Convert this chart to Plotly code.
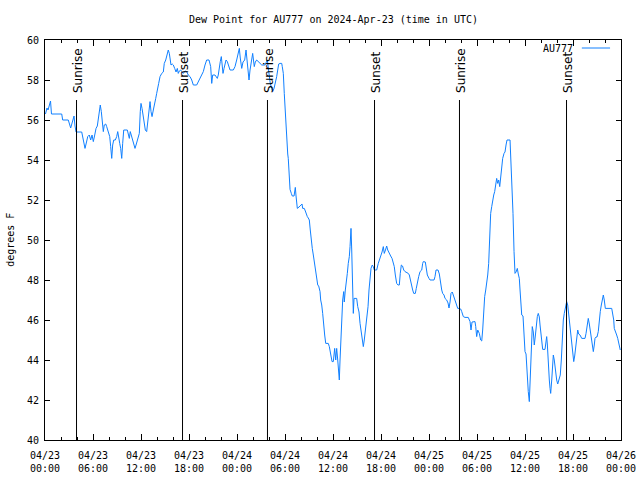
import pandas as pd
import plotly.graph_objects as go

# ---- data (hours after 2024-04-23 00:00 UTC, dew point in F) ----
hours = [
    0.06, 0.25, 0.38, 0.56, 0.69, 0.81, 2.09, 2.21, 2.91, 3.21,
    3.38, 3.63, 3.75, 3.88, 4.59, 4.71, 4.88, 5.0, 5.19, 5.34,
    5.54, 5.71, 5.88, 6.04, 6.19, 6.38, 6.54, 6.66, 6.79, 6.91,
    7.04, 7.16, 7.29, 7.41, 7.59, 7.71, 7.84, 7.96, 8.09, 8.21,
    8.34, 8.46, 8.59, 8.79, 8.96, 9.09, 9.21, 9.34, 9.46, 9.59,
    9.71, 9.84, 10.29, 10.41, 10.54, 10.66, 10.84, 10.96, 11.13, 11.25,
    11.38, 11.54, 11.66, 11.79, 11.91, 12.0, 12.13, 12.25, 12.38, 12.54,
    12.71, 12.84, 13.0, 13.13, 13.25, 13.38, 13.54, 13.66, 13.84, 13.96,
    14.09, 14.21, 14.38, 14.59, 14.79, 14.91, 15.09, 15.21, 15.41, 15.54,
    15.63, 15.75, 15.91, 16.04, 16.21, 16.38, 16.54, 16.66, 16.79, 16.96,
    17.09, 17.29, 17.5, 17.71, 17.91, 18.13, 18.34, 18.54, 18.96, 19.16,
    19.38, 19.59, 19.79, 20.0, 20.21, 20.5, 20.71, 20.84, 20.96, 21.25,
    21.54, 21.66, 21.79, 21.91, 22.04, 22.16, 22.25, 22.38, 22.5, 22.63,
    22.79, 22.96, 23.13, 23.54, 23.75, 23.96, 24.13, 24.29, 24.41, 24.59,
    24.75, 24.96, 25.13, 25.25, 25.38, 25.5, 25.63, 25.79, 25.96, 26.16,
    26.29, 26.46, 26.66, 26.84, 27.09, 27.5, 27.63, 27.79, 27.91, 28.04,
    28.16, 28.34, 28.46, 28.63, 28.79, 28.96, 29.09, 29.21, 29.38, 29.59,
    29.66, 29.79, 29.91, 30.04, 30.21, 30.34, 30.41, 30.5, 30.63, 30.79,
    30.91, 31.13, 31.21, 31.29, 31.38, 31.46, 31.54, 31.75, 31.96, 32.13,
    32.21, 32.41, 32.54, 32.63, 32.79, 32.91, 33.04, 33.16, 33.29, 33.41,
    33.54, 33.66, 33.79, 33.96, 34.09, 34.21, 34.38, 34.46, 34.59, 34.71,
    34.84, 34.96, 35.09, 35.41, 35.54, 35.71, 35.88, 36.04, 36.21, 36.34,
    36.46, 36.59, 36.66, 36.79, 36.88, 36.96, 37.09, 37.21, 37.34, 37.41,
    37.54, 37.66, 37.79, 37.91, 38.04, 38.13, 38.25, 38.34, 38.41, 38.54,
    38.63, 38.96, 39.09, 39.25, 39.38, 39.5, 39.63, 39.79, 39.91, 40.04,
    40.21, 40.38, 40.5, 40.63, 40.75, 40.91, 41.04, 41.16, 41.46, 41.66,
    41.81, 41.96, 42.13, 42.29, 42.41, 42.56, 42.71, 42.84, 43.04, 43.21,
    43.38, 43.54, 43.66, 43.79, 43.96, 44.13, 44.29, 44.41, 44.54, 44.69,
    44.84, 45.0, 45.41, 45.54, 45.66, 45.79, 45.96, 46.09, 46.29, 46.41,
    46.54, 46.71, 46.88, 47.09, 47.21, 47.29, 47.54, 47.66, 47.79, 48.0,
    48.13, 48.63, 48.75, 48.88, 49.13, 49.29, 49.46, 49.59, 49.71, 49.88,
    50.0, 50.21, 50.38, 50.5, 50.63, 50.75, 50.91, 51.04, 51.16, 51.29,
    51.46, 51.59, 51.79, 51.96, 52.09, 52.29, 52.5, 52.91, 53.13, 53.25,
    53.38, 53.54, 53.75, 53.84, 53.96, 54.09, 54.29, 54.46, 54.59, 54.71,
    54.84, 54.96, 55.09, 55.21, 55.34, 55.46, 55.59, 55.71, 55.84, 55.96,
    56.09, 56.21, 56.34, 56.46, 56.59, 56.71, 56.84, 56.96, 57.09, 57.21,
    57.38, 57.5, 57.63, 57.75, 58.13, 58.25, 58.38, 58.5, 58.63, 58.75,
    58.88, 59.04, 59.16, 59.29, 59.38, 59.46, 59.59, 59.75, 59.88, 60.0,
    60.13, 60.21, 60.34, 60.41, 60.54, 60.63, 60.75, 60.84, 60.91, 61.04,
    61.16, 61.29, 61.41, 61.54, 61.66, 61.79, 61.88, 62.0, 62.09, 62.21,
    62.5, 62.59, 62.71, 62.79, 62.91, 63.04, 63.13, 63.21, 63.34, 63.46,
    63.54, 63.66, 63.75, 63.88, 63.96, 64.09, 64.16, 64.29, 64.41, 64.54,
    64.66, 64.79, 64.91, 65.0, 65.13, 65.21, 65.34, 65.41, 65.54, 65.66,
    65.84, 65.96, 66.09, 66.21, 66.34, 66.46, 66.59, 66.71, 66.88, 67.09,
    67.5, 67.63, 67.75, 67.91, 68.04, 68.16, 68.29, 68.41, 68.54, 68.66,
    68.75, 68.88, 69.0, 69.16, 69.29, 69.41, 69.54, 69.66, 69.79, 69.91,
    70.04, 70.84, 70.96, 71.09, 71.16, 71.34, 71.46, 71.59, 71.71, 71.79,
    71.91,
]

dew_point = [
    56.3, 56.6, 56.5, 56.8, 56.95, 56.3, 56.3, 56.0, 56.0, 55.6,
    55.8, 56.2, 55.7, 55.4, 55.4, 55.1, 54.75, 54.58, 54.9, 55.17,
    55.25, 55.0, 55.25, 54.92, 55.2, 55.58, 55.7, 56.08, 56.58, 56.75,
    56.42, 56.0, 55.42, 55.75, 55.8, 55.67, 55.5, 55.33, 55.17, 54.67,
    54.08, 54.75, 55.0, 55.0, 55.17, 55.42, 55.0, 54.83, 54.58, 54.08,
    54.83, 55.5, 55.5, 55.33, 55.08, 55.42, 55.2, 55.0, 54.75, 54.58,
    54.75, 55.0, 55.17, 55.33, 56.42, 56.83, 56.58, 56.17, 55.83, 55.5,
    55.42, 55.83, 56.5, 56.92, 56.42, 56.17, 56.5, 56.83, 57.08, 57.33,
    57.67, 57.83, 58.17, 58.33, 58.4, 58.83, 59.0, 59.25, 59.5, 59.33,
    58.92, 58.75, 58.8, 58.75, 58.58, 58.4, 58.58, 58.33, 58.45, 58.5,
    58.42, 58.33, 58.45, 58.42, 58.25, 58.17, 58.0, 57.75, 57.75, 57.92,
    58.08, 58.25, 58.42, 58.75, 59.0, 59.0, 58.67, 57.83, 58.25, 58.25,
    58.08, 58.25, 58.67, 58.92, 59.17, 58.67, 58.33, 58.58, 58.83, 59.0,
    58.92, 58.67, 58.5, 58.5, 58.67, 59.0, 59.33, 59.58, 59.1, 58.58,
    58.9, 59.0, 59.5, 59.0, 58.6, 58.0, 58.5, 58.9, 59.33, 58.67,
    58.9, 59.0, 58.92, 58.9, 58.75, 58.75, 58.85, 59.0, 58.6, 58.17,
    57.83, 57.58, 57.42, 57.58, 57.83, 58.17, 58.5, 58.8, 58.83, 58.83,
    58.67, 58.33, 57.33, 56.17, 55.0, 54.3, 54.08, 53.08, 52.53, 52.33,
    52.2, 52.2, 52.42, 52.63, 52.2, 51.83, 51.58, 51.65, 51.75, 51.8,
    51.58, 51.58, 51.45, 51.33, 51.17, 51.1, 51.0, 50.5, 49.92, 49.58,
    49.25, 48.92, 48.5, 48.17, 47.75, 47.7, 47.42, 47.0, 46.75, 46.33,
    45.92, 45.25, 44.83, 44.83, 44.67, 44.17, 43.92, 43.92, 44.58, 44.0,
    44.58, 44.0, 43.67, 43.0, 44.0, 45.0, 46.17, 47.0, 47.42, 46.9,
    47.5, 48.08, 48.33, 48.83, 49.17, 49.67, 50.58, 49.5, 47.67, 46.33,
    47.08, 47.08, 46.67, 46.4, 45.83, 45.42, 45.0, 44.67, 45.0, 45.42,
    46.0, 46.67, 47.5, 48.17, 48.58, 48.75, 48.67, 48.5, 48.5, 48.83,
    49.0, 49.25, 49.4, 49.67, 49.33, 49.5, 49.7, 49.5, 49.3, 49.2,
    49.08, 48.83, 48.67, 48.25, 47.83, 47.75, 47.75, 48.33, 48.75, 48.7,
    48.5, 48.42, 48.33, 48.25, 48.0, 47.75, 47.5, 47.33, 47.33, 47.58,
    47.92, 48.17, 48.42, 48.5, 48.83, 48.92, 48.9, 48.42, 48.25, 48.08,
    48.0, 48.0, 48.17, 48.5, 48.5, 48.3, 47.75, 47.5, 47.33, 47.25,
    47.08, 47.0, 46.85, 46.6, 46.9, 47.33, 47.4, 47.25, 47.08, 46.9,
    46.67, 46.58, 46.58, 46.55, 46.42, 46.17, 46.13, 46.13, 45.92, 45.5,
    45.9, 45.92, 45.92, 45.67, 45.17, 45.5, 45.33, 45.0, 44.95, 45.5,
    46.5, 47.17, 47.5, 47.8, 48.25, 48.83, 50.17, 51.33, 51.67, 52.08,
    52.25, 52.42, 52.67, 53.08, 52.83, 53.0, 52.67, 53.17, 53.5, 54.08,
    54.33, 54.4, 54.75, 55.0, 55.0, 53.83, 52.83, 51.33, 49.42, 48.33,
    48.4, 48.58, 48.3, 48.08, 47.5, 46.83, 46.25, 46.2, 45.33, 44.42,
    44.3, 43.67, 43.0, 42.42, 41.92, 43.0, 44.33, 45.17, 45.67, 45.4,
    44.75, 45.2, 45.83, 46.17, 46.33, 46.15, 45.75, 45.17, 44.75, 44.53,
    44.53, 44.85, 45.17, 44.8, 43.67, 43.0, 42.58, 42.33, 43.0, 43.67,
    44.25, 44.0, 43.67, 43.33, 43.0, 42.8, 42.9, 43.08, 43.25, 44.0,
    45.25, 46.0, 46.33, 46.58, 46.75, 46.92, 46.75, 46.5, 46.08, 45.58,
    45.0, 44.58, 43.92, 44.2, 44.75, 45.17, 45.5, 45.3, 45.25, 45.08,
    45.08, 45.33, 45.75, 46.08, 45.8, 45.42, 45.3, 44.92, 44.42, 44.75,
    45.08, 45.15, 45.15, 45.42, 46.17, 46.42, 46.75, 47.05, 47.25, 47.0,
    46.58, 46.58, 46.33, 46.0, 45.58, 45.42, 45.25, 45.08, 44.9, 44.75,
    44.5,
]

# sunrise / sunset events (hours after start) and their labels
sun_hours = [3.94, 17.19, 27.81, 41.19, 51.81, 65.19]
sun_labels = ["Sunrise", "Sunset", "Sunrise", "Sunset", "Sunrise", "Sunset"]
sun_line_top = 57.0

tick_hours = [0, 6, 12, 18, 24, 30, 36, 42, 48, 54, 60, 66, 72]
tick_labels = [
    "04/23<br>00:00", "04/23<br>06:00", "04/23<br>12:00", "04/23<br>18:00",
    "04/24<br>00:00", "04/24<br>06:00", "04/24<br>12:00", "04/24<br>18:00",
    "04/25<br>00:00", "04/25<br>06:00", "04/25<br>12:00", "04/25<br>18:00",
    "04/26<br>00:00",
]

series_name = "AU777"
title_text = "Dew Point for AU777 on 2024-Apr-23 (time in UTC)"
y_title = "degrees F"

start = pd.Timestamp("2024-04-23 00:00:00")
to_time = lambda hs: [start + pd.to_timedelta(h, unit="h") for h in hs]

x_vals = to_time(hours)
sun_times = to_time(sun_hours)
tick_times = to_time(tick_hours)

MONO = "DejaVu Sans Mono"
LINE_COLOR = "#1080ff"

fig = go.Figure()
fig.add_trace(go.Scatter(
    x=x_vals, y=dew_point, mode="lines", name=series_name,
    line=dict(color=LINE_COLOR, width=1), showlegend=False,
))

shapes = []
annotations = []
for t, lab in zip(sun_times, sun_labels):
    shapes.append(dict(type="line", xref="x", yref="y", x0=t, x1=t,
                       y0=40, y1=sun_line_top,
                       line=dict(color="black", width=1)))
    annotations.append(dict(x=t, y=sun_line_top, xref="x", yref="y",
                            text=lab, showarrow=False, textangle=-90,
                            xanchor="center", yanchor="bottom", yshift=5,
                            xshift=1,
                            font=dict(family="DejaVu Sans", size=12,
                                      color="black")))

# legend drawn gnuplot-style: text then sample line
annotations.append(dict(x=0.921, y=0.98, xref="paper", yref="paper",
                        text=series_name, showarrow=False, xanchor="right",
                        yanchor="middle",
                        font=dict(family=MONO, size=10, color="black")))
shapes.append(dict(type="line", xref="paper", yref="paper", x0=0.932,
                   x1=0.981, y0=0.98, y1=0.98,
                   line=dict(color=LINE_COLOR, width=1)))

annotations.append(dict(x=0.5, y=1.05, xref="paper", yref="paper",
                        text=title_text, showarrow=False, xanchor="center",
                        yanchor="middle",
                        font=dict(family=MONO, size=10, color="black")))
annotations.append(dict(x=-0.061, y=0.5, xref="paper", yref="paper",
                        text=y_title, showarrow=False, textangle=-90,
                        xanchor="center", yanchor="middle",
                        font=dict(family=MONO, size=10, color="black")))

fig.update_layout(
    width=640, height=480,
    margin=dict(l=45, r=19, t=40, b=40, autoexpand=False),
    paper_bgcolor="white", plot_bgcolor="white",
    shapes=shapes, annotations=annotations,
    font=dict(family=MONO, size=10, color="black"),
)

fig.update_xaxes(
    type="date", range=[tick_times[0], tick_times[-1]],
    tickvals=tick_times, ticktext=tick_labels,
    ticks="inside", ticklen=6, tickcolor="black", tickwidth=1,
    showline=True, linecolor="black", linewidth=1, mirror="allticks",
    showgrid=False, zeroline=False, ticklabelstandoff=6,
    tickfont=dict(family=MONO, size=10, color="black"),
    minor=dict(ticks="inside", ticklen=3, dtick=2 * 3600 * 1000,
               tick0=tick_times[0], tickcolor="black", showgrid=False),
)
fig.update_yaxes(
    range=[40, 60], dtick=2, tick0=40,
    ticks="inside", ticklen=5, tickcolor="black", tickwidth=1,
    showline=True, linecolor="black", linewidth=1, mirror="allticks",
    showgrid=False, zeroline=False, ticklabelstandoff=3,
    tickfont=dict(family=MONO, size=10, color="black"),
)

# remove the page's default body margin so the 640x480 figure fills the window
fig.write_html(
    "out.html",
    config={"displayModeBar": False},
    post_script="document.body.style.margin='0';"
                "document.body.style.overflow='hidden';",
)
